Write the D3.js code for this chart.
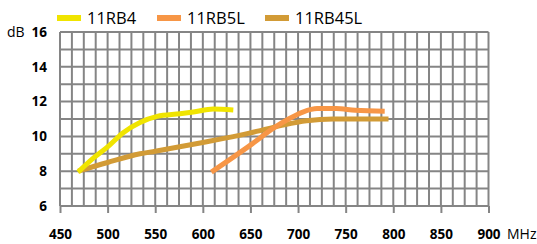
<html lang="en">
<head>
<meta charset="utf-8">
<title></title>
<style>
  body { margin: 0; background: #fff; }
  .tick-label { font-family: "Open Sans", "Noto Sans", sans-serif; font-weight: bold; font-size: 13.5px; fill: #000; }
  .unit { font-family: "Open Sans", "Noto Sans", sans-serif; font-size: 14px; fill: #000; }
  .legend-text { font-family: "Open Sans", "Noto Sans", sans-serif; font-size: 16.5px; fill: #000; }
  .series { fill: none; stroke-width: 5; stroke-linecap: butt; stroke-linejoin: round; }
</style>
<script src="https://d3js.org/d3.v7.min.js"></script>
</head>
<body>
<svg id="chart" width="537" height="244"></svg>
<script>
// series names and colours
var seriesNames = ["11RB4", "11RB5L", "11RB45L"];
var seriesColors = ["#f0e400", "#f79646", "#d29b36"];

// frequency (MHz) / gain (dB)
var rb4Freq = [469, 485, 500, 516, 534, 552, 576, 590, 611, 632];
var rb4Gain = [7.95, 8.75, 9.4, 10.2, 10.8, 11.15, 11.3, 11.4, 11.57, 11.52];

var rb5lFreq = [609, 650, 675, 690, 705, 720, 740, 760, 791];
var rb5lGain = [7.95, 9.5, 10.5, 11.0, 11.4, 11.6, 11.6, 11.5, 11.45];

var rb45lFreq = [469, 500, 534, 550, 600, 650, 684, 709, 737, 765, 795];
var rb45lGain = [8.0, 8.5, 9.0, 9.15, 9.65, 10.2, 10.65, 10.9, 11.0, 11.0, 11.0];

var xTicks = [450, 500, 550, 600, 650, 700, 750, 800, 850, 900];
var yTicks = [6, 8, 10, 12, 14, 16];

var svg = d3.select("#chart");

var x = d3.scaleLinear().domain([450, 900]).range([60, 488.5]);
var y = d3.scaleLinear().domain([6, 16]).range([206, 32]);

// grid: every 12.5 MHz and every 1 dB
var grid = svg.append("g").attr("stroke", "#858585").attr("stroke-width", 2);
d3.range(450, 900.1, 12.5).forEach(function(v) {
  grid.append("line")
    .attr("x1", x(v)).attr("x2", x(v))
    .attr("y1", y(16)).attr("y2", y(6));
});
d3.range(6, 16.1, 1).forEach(function(v) {
  grid.append("line")
    .attr("x1", x(450)).attr("x2", x(900))
    .attr("y1", y(v)).attr("y2", y(v));
});

// x axis ticks below the grid
var xAxis = d3.axisBottom(x).tickValues(xTicks).tickSize(7).tickPadding(16).tickFormat(d3.format("d"));
var gx = svg.append("g").attr("transform", "translate(0," + y(6) + ")").call(xAxis);
gx.select(".domain").remove();
gx.selectAll(".tick line").attr("stroke", "#858585").attr("stroke-width", 2);
gx.selectAll(".tick text").attr("class", "tick-label").attr("font-size", null).attr("font-family", null);

// y axis labels
var yAxis = d3.axisLeft(y).tickValues(yTicks).tickSize(0).tickPadding(13);
var gy = svg.append("g").attr("transform", "translate(" + x(450) + ",0)").call(yAxis);
gy.select(".domain").remove();
gy.selectAll(".tick text").attr("class", "tick-label").attr("font-size", null).attr("font-family", null);

svg.append("text").attr("class", "unit").attr("x", 7).attr("y", y(16) + 5).text("dB");
svg.append("text").attr("class", "unit").attr("x", 507).attr("y", y(6) + 33).text("MHz");

// lines
var line = d3.line()
  .x(function(d) { return x(d[0]); })
  .y(function(d) { return y(d[1]); })
  .curve(d3.curveMonotoneX);

var allData = [
  d3.zip(rb4Freq, rb4Gain),
  d3.zip(rb5lFreq, rb5lGain),
  d3.zip(rb45lFreq, rb45lGain)
];

// draw gold, yellow, then orange on top
[2, 0, 1].forEach(function(i) {
  svg.append("path")
    .attr("class", "series")
    .attr("stroke", seriesColors[i])
    .attr("d", line(allData[i]));
});

// legend
var legendX = [57, 157, 265];
seriesNames.forEach(function(name, i) {
  var g = svg.append("g").attr("transform", "translate(" + legendX[i] + ",18)");
  g.append("line").attr("x1", 0).attr("x2", 24).attr("y1", 0).attr("y2", 0)
    .attr("stroke", seriesColors[i]).attr("stroke-width", 6);
  g.append("text").attr("class", "legend-text").attr("x", 30).attr("y", 6).text(name);
});
</script>
</body>
</html>
